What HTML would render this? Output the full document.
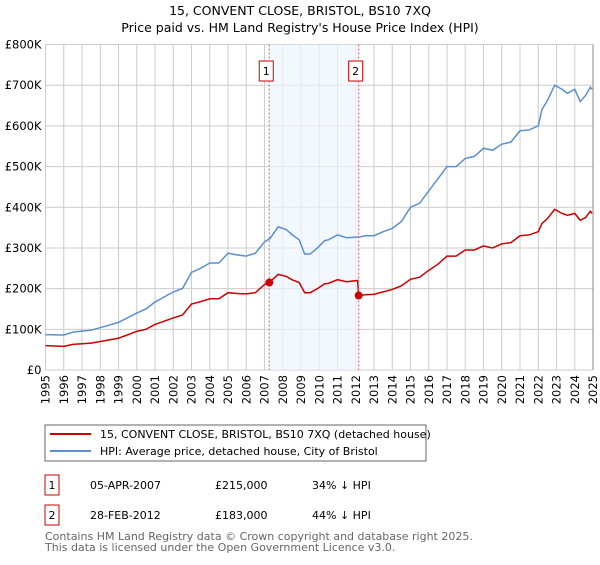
<!DOCTYPE html>
<html><head><meta charset="utf-8"><style>
body{margin:0;background:#fff;font-family:"Liberation Sans","DejaVu Sans",sans-serif;}
svg text{font-family:"DejaVu Sans","Liberation Sans",sans-serif;}
</style></head><body>
<svg id="chart" width="600" height="560" xmlns="http://www.w3.org/2000/svg">
<text x="300" y="15" text-anchor="middle" font-size="12.5" fill="#000">15, CONVENT CLOSE, BRISTOL, BS10 7XQ</text>
<text x="300" y="32" text-anchor="middle" font-size="12.5" fill="#000">Price paid vs. HM Land Registry's House Price Index (HPI)</text>
<g id="grid"></g><g id="shade"></g><g id="lines"></g><g id="axes"></g>
<rect x="45" y="425" width="381" height="36" fill="#fff" stroke="#666"/>
<line x1="50" y1="434" x2="91" y2="434" stroke="#cc0000" stroke-width="2"/>
<text x="100" y="438" font-size="11">15, CONVENT CLOSE, BRISTOL, BS10 7XQ (detached house)</text>
<line x1="50" y1="451" x2="91" y2="451" stroke="#5b8fd0" stroke-width="2"/>
<text x="100" y="455" font-size="11">HPI: Average price, detached house, City of Bristol</text>
<rect x="45" y="475" width="14" height="20" fill="#fff" stroke="#cc0000"/>
<text x="52" y="489" font-size="11" text-anchor="middle">1</text>
<text x="90" y="489" font-size="11">05-APR-2007</text>
<text x="215" y="489" font-size="11">£215,000</text>
<text x="312" y="489" font-size="11">34% ↓ HPI</text>
<rect x="45" y="505" width="14" height="20" fill="#fff" stroke="#cc0000"/>
<text x="52" y="519" font-size="11" text-anchor="middle">2</text>
<text x="90" y="519" font-size="11">28-FEB-2012</text>
<text x="215" y="519" font-size="11">£183,000</text>
<text x="312" y="519" font-size="11">44% ↓ HPI</text>
<text x="45" y="540" font-size="11" fill="#666">Contains HM Land Registry data © Crown copyright and database right 2025.</text>
<text x="45" y="551" font-size="11" fill="#666">This data is licensed under the Open Government Licence v3.0.</text>
</svg>
<script>
const hpiDates=[1995,1996,1996.5,1997.5,1998,1999,2000,2000.5,2001,2002,2002.5,2003,2003.5,2004,2004.5,2005,2005.5,2006,2006.5,2007,2007.3,2007.75,2008.2,2008.5,2008.9,2009.2,2009.5,2009.9,2010.3,2010.5,2011,2011.5,2012.2,2012.5,2013,2013.5,2014,2014.5,2015,2015.5,2016,2016.5,2017,2017.5,2018,2018.5,2019,2019.5,2020,2020.5,2021,2021.5,2022,2022.2,2022.5,2022.9,2023.3,2023.6,2024,2024.3,2024.6,2024.85,2024.95];
const hpiValues=[87,86,93,98,104,117,140,150,167,192,200,240,250,263,263,287,283,280,287,315,323,352,345,333,320,285,285,300,318,320,332,325,327,330,330,340,348,365,400,410,440,470,500,500,520,525,545,540,555,560,588,590,600,640,662,700,690,680,690,660,675,695,690];
const propDates=[1995,1996,1996.5,1997.5,1998,1999,2000,2000.5,2001,2002,2002.5,2003,2003.5,2004,2004.5,2005,2005.5,2006,2006.5,2007,2007.26,2007.75,2008.2,2008.5,2008.9,2009.2,2009.5,2009.9,2010.3,2010.5,2011,2011.5,2012.1,2012.16,2012.5,2013,2013.5,2014,2014.5,2015,2015.5,2016,2016.5,2017,2017.5,2018,2018.5,2019,2019.5,2020,2020.5,2021,2021.5,2022,2022.2,2022.5,2022.9,2023.3,2023.6,2024,2024.3,2024.6,2024.85,2024.95];
const propValues=[60,58,63,66,70,78,95,100,112,128,135,162,168,175,175,190,188,187,190,210,215,235,230,222,215,190,190,200,212,213,222,217,220,183,185,186,192,198,207,223,228,245,260,280,280,295,295,305,300,310,313,330,332,340,360,372,395,385,380,385,368,375,390,385];
const saleDates=[2007.26,2012.16];
const salePrices=[215,183];
const saleLabels=["1","2"];
const yTicks=[0,100,200,300,400,500,600,700,800];
const yTickLabels=["£0","£100K","£200K","£300K","£400K","£500K","£600K","£700K","£800K"];
const xTicks=[1995,1996,1997,1998,1999,2000,2001,2002,2003,2004,2005,2006,2007,2008,2009,2010,2011,2012,2013,2014,2015,2016,2017,2018,2019,2020,2021,2022,2023,2024,2025];

const X0=45.5,X1=593,Y0=370,Y1=44.5;
const x=t=>X0+(t-1995)/30*(X1-X0);
const y=v=>Y0-v/800*(Y0-Y1);
const NS="http://www.w3.org/2000/svg";
function mk(tag,parent,attrs){const e=document.createElementNS(NS,tag);for(const k in attrs)e.setAttribute(k,attrs[k]);parent.appendChild(e);return e;}
const grid=document.getElementById('grid'),shade=document.getElementById('shade'),lines=document.getElementById('lines'),axes=document.getElementById('axes');
yTicks.forEach((v,i)=>{
  const l=mk('line',grid,{x1:X0,x2:X1,y1:y(v),y2:y(v),stroke:'#ccc','stroke-width':1});
  
  
  const t=mk('text',axes,{x:X0-4,y:y(v)+4,'text-anchor':'end','font-size':11.5});
  t.textContent=yTickLabels[i];
  
  
});
xTicks.forEach(yr=>{
  const l=mk('line',grid,{x1:x(yr),x2:x(yr),y1:Y1,y2:Y0,stroke:'#ccc','stroke-width':1});
  
  
  const t=mk('text',axes,{x:0,y:0,'text-anchor':'end','font-size':11.5,transform:`translate(${x(yr)+4},${Y0+5}) rotate(-90)`});
  t.textContent=yr;
  
  
});
const sh=mk('rect',shade,{x:x(saleDates[0]),y:Y1,width:x(saleDates[1])-x(saleDates[0]),height:Y0-Y1,fill:'#eef3fd',opacity:0.7});


const hp=mk('polyline',lines,{points:hpiDates.map((d,i)=>x(d)+','+y(hpiValues[i])).join(' '),fill:'none',stroke:'#5b8fd0','stroke-width':1.5});


const pp=mk('polyline',lines,{points:propDates.map((d,i)=>x(d)+','+y(propValues[i])).join(' '),fill:'none',stroke:'#cc0000','stroke-width':1.5});


saleDates.forEach((d,i)=>{
  const vl=mk('line',lines,{x1:x(d),x2:x(d),y1:Y1,y2:Y0,stroke:'#e06060','stroke-width':1,'stroke-dasharray':'2,2'});
  
  
  const c=mk('circle',lines,{cx:x(d),cy:y(salePrices[i]),r:4,fill:'#cc0000'});
  
  
  const b=mk('rect',lines,{x:x(d)-10,y:61,width:14,height:20,fill:'#fff',stroke:'#cc0000'});
  
  
  const t=mk('text',lines,{x:x(d)-3,y:75,'text-anchor':'middle','font-size':11});
  t.textContent=saleLabels[i];
  
  
});
const ax=mk('line',axes,{x1:X1,x2:X1,y1:Y1,y2:Y0,stroke:'#888','stroke-width':1});


</script>
</body></html>
